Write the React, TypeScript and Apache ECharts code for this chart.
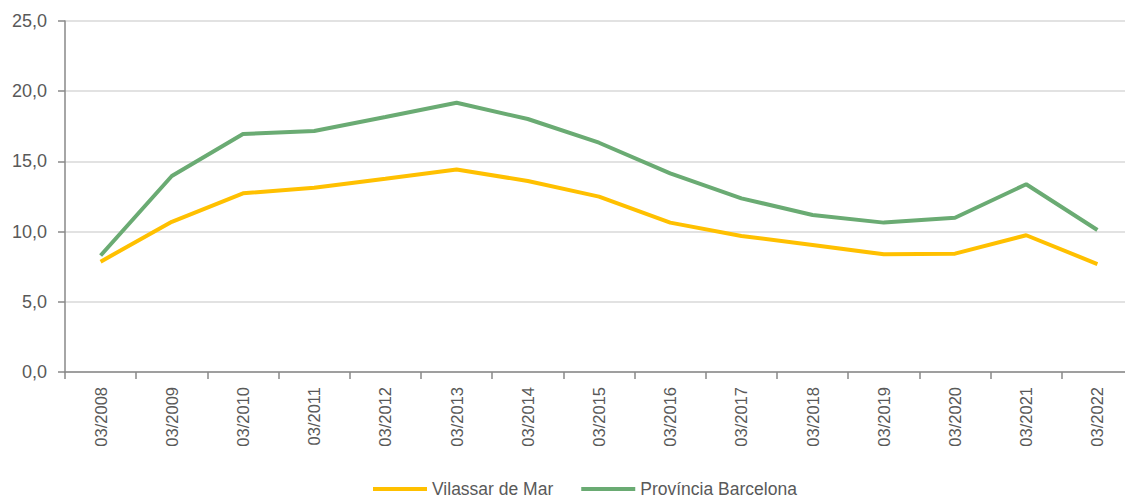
import React, { useEffect, useRef } from "react";
import * as echarts from "echarts";

const categories = [
  "03/2008", "03/2009", "03/2010", "03/2011", "03/2012", "03/2013", "03/2014", "03/2015",
  "03/2016", "03/2017", "03/2018", "03/2019", "03/2020", "03/2021", "03/2022",
];
const vilassar = [7.86, 10.7, 12.73, 13.13, 13.77, 14.43, 13.6, 12.49, 10.64, 9.69, 9.05, 8.38, 8.43, 9.74, 7.69];
const barcelona = [8.3, 13.96, 16.95, 17.17, 18.16, 19.18, 18.02, 16.33, 14.15, 12.37, 11.18, 10.64, 10.99, 13.37, 10.11];
const seriesNames = ["Vilassar de Mar", "Província Barcelona"];
const yTicks = { min: 0, max: 25, interval: 5 };

const FONT = "'Liberation Sans', Arial, sans-serif";

export default function App() {
  const ref = useRef<HTMLDivElement>(null);
  useEffect(() => {
    if (!ref.current) return;
    const chart = echarts.init(ref.current, null, { renderer: "svg" });
    chart.setOption({
      animation: false,
      backgroundColor: "#ffffff",
      grid: { left: 65, right: 7, top: 21, bottom: 127, containLabel: false },
      legend: {
        left: 368,
        top: 475,
        itemWidth: 54,
        itemHeight: 4,
        itemGap: 28,
        icon: "rect",
        textStyle: { fontFamily: FONT, fontSize: 17.5, color: "#595959" },
        data: seriesNames,
      },
      xAxis: {
        type: "category",
        data: categories,
        boundaryGap: true,
        axisLine: { show: true, lineStyle: { color: "#898989", width: 1.5 } },
        axisTick: { show: true, length: 7, alignWithLabel: false, lineStyle: { color: "#898989", width: 1.5 } },
        axisLabel: {
          rotate: 90,
          margin: 15,
          interval: 0,
          fontFamily: FONT,
          fontSize: 16.5,
          color: "#595959",
        },
        splitLine: { show: false },
      },
      yAxis: {
        type: "value",
        min: yTicks.min,
        max: yTicks.max,
        interval: yTicks.interval,
        axisLine: { show: true, lineStyle: { color: "#898989", width: 1.5 } },
        axisTick: { show: true, length: 7, lineStyle: { color: "#898989", width: 1.5 } },
        axisLabel: {
          margin: 18,
          fontFamily: FONT,
          fontSize: 18,
          color: "#595959",
          formatter: (v: number) => v.toFixed(1).replace(".", ","),
        },
        splitLine: { show: true, lineStyle: { color: "#d9d9d9", width: 1.5 } },
      },
      series: [
        {
          name: seriesNames[0],
          type: "line",
          data: vilassar,
          symbol: "none",
          itemStyle: { color: "#ffc000" },
          lineStyle: { color: "#ffc000", width: 4 },
        },
        {
          name: seriesNames[1],
          type: "line",
          data: barcelona,
          symbol: "none",
          itemStyle: { color: "#6aab73" },
          lineStyle: { color: "#6aab73", width: 4 },
        },
      ],
    });
    return () => chart.dispose();
  }, []);
  return (
    <div
      ref={ref}
      style={{ position: "fixed", left: 0, top: 0, width: 1140, height: 499, background: "#fff" }}
    />
  );
}
